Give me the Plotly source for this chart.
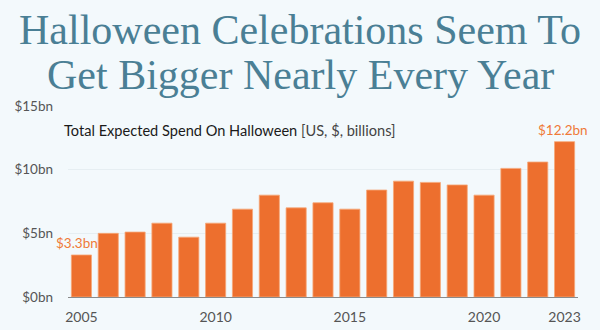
import plotly.graph_objects as go

years = list(range(2005, 2024))
spend_bn = [3.3, 5.0, 5.1, 5.8, 4.7, 5.8, 6.9, 8.0, 7.0, 7.4,
            6.9, 8.4, 9.1, 9.0, 8.8, 8.0, 10.1, 10.6, 12.2]
x_tick_years = [2005, 2010, 2015, 2020, 2023]
y_tick_vals = [0, 5, 10, 15]
y_tick_text = ["$0bn", "$5bn", "$10bn", "$15bn"]
headline = ["Halloween Celebrations Seem To", "Get Bigger Nearly Every Year"]

BG = "#f3f9fc"
ORANGE = "#ed6f2e"
TEAL = "#4a7f95"

fig = go.Figure()
fig.add_trace(go.Bar(
    x=years, y=spend_bn,
    marker=dict(color=ORANGE, line=dict(color="#f6a878", width=0.8)),
    hoverinfo="x+y",
))

# value callouts on the first and last bars
for yr, val, shift in [(years[0], spend_bn[0], -4), (years[-1], spend_bn[-1], -2)]:
    fig.add_annotation(
        x=yr, y=val, xref="x", yref="y",
        text=f"${val}bn", showarrow=False,
        yanchor="bottom", yshift=2, xshift=shift,
        font=dict(family="Lato", size=13.5, color="#ef7a38"),
    )

fig.update_layout(
    width=600, height=330,
    margin=dict(l=68, r=22, t=106, b=33),
    paper_bgcolor=BG, plot_bgcolor=BG,
    bargap=0.25,
    showlegend=False,
    xaxis=dict(
        range=[years[0] - 0.5, years[-1] + 0.5],
        tickmode="array", tickvals=x_tick_years,
        ticktext=[str(y) for y in x_tick_years],
        showgrid=False, ticks="", showline=False, zeroline=False,
        tickfont=dict(family="Lato", size=14, color="#555555"),
        ticklabelstandoff=10, automargin=False,
    ),
    yaxis=dict(
        range=[0, 15],
        tickmode="array", tickvals=y_tick_vals, ticktext=y_tick_text,
        showgrid=True, gridcolor="#e6eef2", gridwidth=1,
        zeroline=True, zerolinecolor="#8a8a8a", zerolinewidth=1.2,
        tickfont=dict(family="Lato", size=13.5, color="#555555"),
        ticklabelstandoff=14, automargin=False,
        showline=False, ticks="",
    ),
)

# two-line headline, centred on the page
for line, shift in zip(headline, [76, 31]):
    fig.add_annotation(
        xref="paper", yref="paper", x=(300 - 68) / 510, y=1,
        xanchor="center", yanchor="middle", yshift=shift,
        text=line, showarrow=False,
        font=dict(family="Liberation Serif", size=42, color=TEAL),
    )

# chart subtitle
fig.add_annotation(
    xref="paper", yref="paper", x=-0.012, y=1, yshift=-24,
    xanchor="left", yanchor="middle",
    text="<span style='color:#1a1a1a'>Total Expected Spend On Halloween</span>"
         "<span style='color:#444444'> [US, $, billions]</span>",
    showarrow=False,
    font=dict(family="Lato", size=14.6),
)

fig.write_html("out.html")
